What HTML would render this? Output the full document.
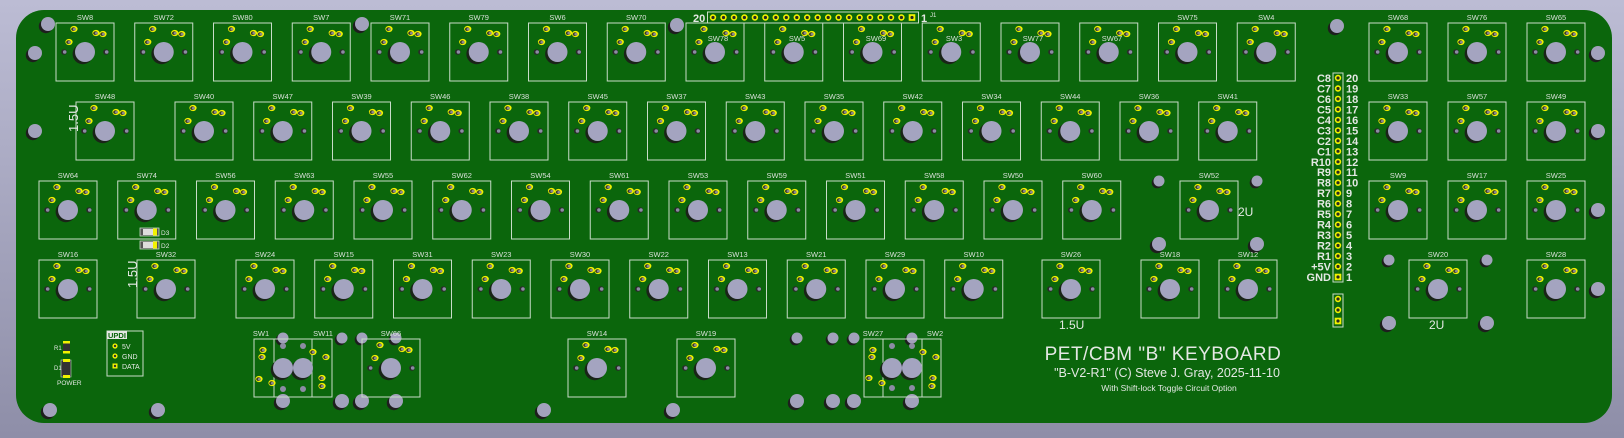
<!DOCTYPE html>
<html><head><meta charset="utf-8"><style>
html,body{margin:0;padding:0;width:1624px;height:438px;overflow:hidden;background:#a8a8c2}
svg{display:block}
text{font-family:"Liberation Sans","DejaVu Sans",sans-serif;fill:#e4e8e4}
.l{font-size:7.5px;text-anchor:middle;fill:#d8e0d8}
</style></head><body>
<svg width="1624" height="438" viewBox="0 0 1624 438" xmlns="http://www.w3.org/2000/svg">
<defs>
<linearGradient id="bg" x1="0" y1="0" x2="0" y2="1"><stop offset="0" stop-color="#bcbcd4"/><stop offset="1" stop-color="#8e8ea8"/></linearGradient>
<g id="pad"><ellipse rx="3.6" ry="3.1" fill="#f2f200"/><ellipse cx="-0.5" cy="0.2" rx="2.3" ry="1.9" fill="#3a3a2a"/><ellipse cx="0.4" cy="0.2" rx="1.5" ry="1.3" fill="#8a8a90"/></g>
<g id="hole"><circle cx="-2" cy="2" r="1" fill="#222"/></g>
<g id="sw">
<rect x="-29" y="-29" width="58" height="58" fill="none" stroke="#c8dcc8" stroke-width="1"/>
<circle cx="-2.2" cy="2" r="10.2" fill="#1a2418"/>
<circle cx="0" cy="0" r="10" fill="#a4a4c0"/>
<circle cx="-21" cy="0" r="2.8" fill="#2a2a2a"/><circle cx="-20.3" cy="0" r="1.8" fill="#8c8ca4"/>
<circle cx="21" cy="0" r="2.8" fill="#2a2a2a"/><circle cx="21.7" cy="0" r="1.8" fill="#8c8ca4"/>
<use href="#pad" x="-11" y="-23"/><use href="#pad" x="11" y="-19"/><use href="#pad" x="18" y="-18"/><use href="#pad" x="-16" y="-10"/>
</g>
<g id="mh5"><circle cx="-1.8" cy="1.8" r="5.5" fill="#1e1e1e"/><circle r="5.5" fill="#a2a2bc"/></g>
<g id="mh7"><circle cx="-2.2" cy="2.2" r="7" fill="#1e1e1e"/><circle r="7" fill="#a2a2bc"/></g>
<g id="pin"><circle r="3.2" fill="#f2f200"/><circle r="1.6" fill="#2a2a20"/></g>
<g id="pinsq"><rect x="-3.3" y="-3.3" width="6.6" height="6.6" fill="#f2f200"/><circle r="1.6" fill="#2a2a20"/></g>
</defs>
<rect width="1624" height="438" fill="url(#bg)"/>
<rect x="16" y="10" width="1596" height="413" rx="28" fill="#0b660c"/>

<!-- mounting holes -->
<use href="#mh7" x="48" y="24"/><use href="#mh7" x="35" y="53"/><use href="#mh7" x="35" y="131"/>
<use href="#mh7" x="362" y="24"/><use href="#mh7" x="677" y="25"/><use href="#mh7" x="1337" y="26"/>
<use href="#mh7" x="1598" y="53"/><use href="#mh7" x="1598" y="131"/><use href="#mh7" x="1598" y="210"/><use href="#mh7" x="1598" y="289"/>
<use href="#mh7" x="50" y="410"/><use href="#mh7" x="158" y="410"/><use href="#mh7" x="544" y="410"/><use href="#mh7" x="673" y="410"/>
<use href="#mh5" x="1159" y="181"/><use href="#mh5" x="1257" y="181"/><use href="#mh7" x="1159" y="244"/><use href="#mh7" x="1257" y="244"/>
<use href="#mh5" x="1389" y="260"/><use href="#mh5" x="1487" y="260"/><use href="#mh7" x="1389" y="323"/><use href="#mh7" x="1487" y="323"/>
<use href="#mh5" x="283" y="338"/><use href="#mh5" x="342" y="338"/><use href="#mh5" x="362" y="338"/><use href="#mh5" x="396" y="338"/>
<use href="#mh7" x="283" y="401"/><use href="#mh7" x="342" y="401"/><use href="#mh7" x="362" y="401"/><use href="#mh7" x="396" y="401"/>
<use href="#mh5" x="797" y="338"/><use href="#mh5" x="833" y="338"/><use href="#mh5" x="854" y="338"/><use href="#mh5" x="912" y="338"/>
<use href="#mh7" x="797" y="401"/><use href="#mh7" x="833" y="401"/><use href="#mh7" x="854" y="401"/><use href="#mh7" x="912" y="401"/>

<!-- row1 -->
<use href="#sw" x="85" y="52"/><use href="#sw" x="163.75" y="52"/><use href="#sw" x="242.5" y="52"/><use href="#sw" x="321.25" y="52"/>
<use href="#sw" x="400" y="52"/><use href="#sw" x="478.75" y="52"/><use href="#sw" x="557.5" y="52"/><use href="#sw" x="636.25" y="52"/>
<use href="#sw" x="715" y="52"/><use href="#sw" x="793.75" y="52"/><use href="#sw" x="872.5" y="52"/><use href="#sw" x="951.25" y="52"/>
<use href="#sw" x="1030" y="52"/><use href="#sw" x="1108.75" y="52"/><use href="#sw" x="1187.5" y="52"/><use href="#sw" x="1266.25" y="52"/>
<use href="#sw" x="1398" y="52"/><use href="#sw" x="1477" y="52"/><use href="#sw" x="1556" y="52"/>
<g class="l">
<text class="l" x="85" y="20">SW8</text><text class="l" x="163.75" y="20">SW72</text><text class="l" x="242.5" y="20">SW80</text><text class="l" x="321.25" y="20">SW7</text>
<text class="l" x="400" y="20">SW71</text><text class="l" x="478.75" y="20">SW79</text><text class="l" x="557.5" y="20">SW6</text><text class="l" x="636.25" y="20">SW70</text>
<text class="l" x="718" y="41">SW78</text><text class="l" x="797" y="41">SW5</text><text class="l" x="876" y="41">SW69</text><text class="l" x="954" y="41">SW3</text>
<text class="l" x="1033" y="41">SW77</text><text class="l" x="1112" y="41">SW67</text><text class="l" x="1187.5" y="20">SW75</text><text class="l" x="1266.25" y="20">SW4</text>
<text class="l" x="1398" y="20">SW68</text><text class="l" x="1477" y="20">SW76</text><text class="l" x="1556" y="20">SW65</text>
</g>

<!-- row2 -->
<use href="#sw" x="105" y="131"/><use href="#sw" x="204" y="131"/><use href="#sw" x="282.75" y="131"/><use href="#sw" x="361.5" y="131"/>
<use href="#sw" x="440.25" y="131"/><use href="#sw" x="519" y="131"/><use href="#sw" x="597.75" y="131"/><use href="#sw" x="676.5" y="131"/>
<use href="#sw" x="755.25" y="131"/><use href="#sw" x="834" y="131"/><use href="#sw" x="912.75" y="131"/><use href="#sw" x="991.5" y="131"/>
<use href="#sw" x="1070.25" y="131"/><use href="#sw" x="1149" y="131"/><use href="#sw" x="1227.75" y="131"/>
<use href="#sw" x="1398" y="131"/><use href="#sw" x="1477" y="131"/><use href="#sw" x="1556" y="131"/>
<text class="l" x="105" y="99">SW48</text><text class="l" x="204" y="99">SW40</text><text class="l" x="282.75" y="99">SW47</text><text class="l" x="361.5" y="99">SW39</text>
<text class="l" x="440.25" y="99">SW46</text><text class="l" x="519" y="99">SW38</text><text class="l" x="597.75" y="99">SW45</text><text class="l" x="676.5" y="99">SW37</text>
<text class="l" x="755.25" y="99">SW43</text><text class="l" x="834" y="99">SW35</text><text class="l" x="912.75" y="99">SW42</text><text class="l" x="991.5" y="99">SW34</text>
<text class="l" x="1070.25" y="99">SW44</text><text class="l" x="1149" y="99">SW36</text><text class="l" x="1227.75" y="99">SW41</text>
<text class="l" x="1398" y="99">SW33</text><text class="l" x="1477" y="99">SW57</text><text class="l" x="1556" y="99">SW49</text>

<!-- row3 -->
<use href="#sw" x="68" y="210"/><use href="#sw" x="146.75" y="210"/><use href="#sw" x="225.5" y="210"/><use href="#sw" x="304.25" y="210"/>
<use href="#sw" x="383" y="210"/><use href="#sw" x="461.75" y="210"/><use href="#sw" x="540.5" y="210"/><use href="#sw" x="619.25" y="210"/>
<use href="#sw" x="698" y="210"/><use href="#sw" x="776.75" y="210"/><use href="#sw" x="855.5" y="210"/><use href="#sw" x="934.25" y="210"/>
<use href="#sw" x="1013" y="210"/><use href="#sw" x="1091.75" y="210"/><use href="#sw" x="1209" y="210"/>
<use href="#sw" x="1398" y="210"/><use href="#sw" x="1477" y="210"/><use href="#sw" x="1556" y="210"/>
<text class="l" x="68" y="178">SW64</text><text class="l" x="146.75" y="178">SW74</text><text class="l" x="225.5" y="178">SW56</text><text class="l" x="304.25" y="178">SW63</text>
<text class="l" x="383" y="178">SW55</text><text class="l" x="461.75" y="178">SW62</text><text class="l" x="540.5" y="178">SW54</text><text class="l" x="619.25" y="178">SW61</text>
<text class="l" x="698" y="178">SW53</text><text class="l" x="776.75" y="178">SW59</text><text class="l" x="855.5" y="178">SW51</text><text class="l" x="934.25" y="178">SW58</text>
<text class="l" x="1013" y="178">SW50</text><text class="l" x="1091.75" y="178">SW60</text><text class="l" x="1209" y="178">SW52</text>
<text class="l" x="1398" y="178">SW9</text><text class="l" x="1477" y="178">SW17</text><text class="l" x="1556" y="178">SW25</text>

<!-- row4 -->
<use href="#sw" x="68" y="289"/><use href="#sw" x="166" y="289"/><use href="#sw" x="265" y="289"/><use href="#sw" x="343.75" y="289"/>
<use href="#sw" x="422.5" y="289"/><use href="#sw" x="501.25" y="289"/><use href="#sw" x="580" y="289"/><use href="#sw" x="658.75" y="289"/>
<use href="#sw" x="737.5" y="289"/><use href="#sw" x="816.25" y="289"/><use href="#sw" x="895" y="289"/><use href="#sw" x="973.75" y="289"/>
<use href="#sw" x="1071" y="289"/><use href="#sw" x="1170" y="289"/><use href="#sw" x="1248" y="289"/>
<use href="#sw" x="1438" y="289"/><use href="#sw" x="1556" y="289"/>
<text class="l" x="68" y="257">SW16</text><text class="l" x="166" y="257">SW32</text><text class="l" x="265" y="257">SW24</text><text class="l" x="343.75" y="257">SW15</text>
<text class="l" x="422.5" y="257">SW31</text><text class="l" x="501.25" y="257">SW23</text><text class="l" x="580" y="257">SW30</text><text class="l" x="658.75" y="257">SW22</text>
<text class="l" x="737.5" y="257">SW13</text><text class="l" x="816.25" y="257">SW21</text><text class="l" x="895" y="257">SW29</text><text class="l" x="973.75" y="257">SW10</text>
<text class="l" x="1071" y="257">SW26</text><text class="l" x="1170" y="257">SW18</text><text class="l" x="1248" y="257">SW12</text>
<text class="l" x="1438" y="257">SW20</text><text class="l" x="1556" y="257">SW28</text>

<!-- row5 -->
<use href="#sw" x="391" y="368"/><use href="#sw" x="597" y="368"/><use href="#sw" x="706" y="368"/>
<text class="l" x="391" y="336">SW66</text><text class="l" x="597" y="336">SW14</text><text class="l" x="706" y="336">SW19</text>
<!-- SW1/SW11 combo -->
<g>
<rect x="254" y="339" width="58" height="58" fill="none" stroke="#c8dcc8"/>
<rect x="274" y="339" width="58" height="58" fill="none" stroke="#c8dcc8"/>
<circle cx="281" cy="370" r="10.2" fill="#1a2418"/><circle cx="301" cy="370" r="10.2" fill="#1a2418"/>
<circle cx="283" cy="368" r="10" fill="#a4a4c0"/><circle cx="303" cy="368" r="10" fill="#a4a4c0"/>
<circle cx="283" cy="346" r="3" fill="#8c8ca4"/><circle cx="303" cy="346" r="3" fill="#8c8ca4"/>
<circle cx="283" cy="389" r="3" fill="#8c8ca4"/><circle cx="303" cy="389" r="3" fill="#8c8ca4"/>
<use href="#pad" x="263" y="350"/><use href="#pad" x="262" y="357"/><use href="#pad" x="259" y="379"/><use href="#pad" x="272" y="383"/>
<use href="#pad" x="313" y="352"/><use href="#pad" x="326" y="357"/><use href="#pad" x="322" y="378"/><use href="#pad" x="322" y="386"/>
<text class="l" x="261" y="336">SW1</text><text class="l" x="323" y="336">SW11</text>
</g>
<!-- SW27/SW2 combo -->
<g>
<rect x="864" y="339" width="58" height="58" fill="none" stroke="#c8dcc8"/>
<rect x="883" y="339" width="58" height="58" fill="none" stroke="#c8dcc8"/>
<circle cx="890" cy="370" r="10.2" fill="#1a2418"/><circle cx="910" cy="370" r="10.2" fill="#1a2418"/>
<circle cx="892" cy="368" r="10" fill="#a4a4c0"/><circle cx="912" cy="368" r="10" fill="#a4a4c0"/>
<circle cx="892" cy="346" r="3" fill="#8c8ca4"/><circle cx="912" cy="346" r="3" fill="#8c8ca4"/>
<circle cx="892" cy="388" r="3" fill="#8c8ca4"/><circle cx="912" cy="388" r="3" fill="#8c8ca4"/>
<use href="#pad" x="873" y="350"/><use href="#pad" x="872" y="357"/><use href="#pad" x="869" y="378"/><use href="#pad" x="882" y="383"/>
<use href="#pad" x="923" y="352"/><use href="#pad" x="936" y="357"/><use href="#pad" x="933" y="378"/><use href="#pad" x="932" y="386"/>
<text class="l" x="873" y="336">SW27</text><text class="l" x="935" y="336">SW2</text>
</g>

<!-- J1 header -->
<rect x="707.5" y="12" width="211" height="11" fill="none" stroke="#c8dcc8"/>
<g>
<use href="#pin" x="713" y="17.5"/><use href="#pin" x="723.5" y="17.5"/><use href="#pin" x="734" y="17.5"/><use href="#pin" x="744.4" y="17.5"/>
<use href="#pin" x="754.9" y="17.5"/><use href="#pin" x="765.4" y="17.5"/><use href="#pin" x="775.8" y="17.5"/><use href="#pin" x="786.3" y="17.5"/>
<use href="#pin" x="796.8" y="17.5"/><use href="#pin" x="807.2" y="17.5"/><use href="#pin" x="817.7" y="17.5"/><use href="#pin" x="828.2" y="17.5"/>
<use href="#pin" x="838.6" y="17.5"/><use href="#pin" x="849.1" y="17.5"/><use href="#pin" x="859.6" y="17.5"/><use href="#pin" x="870" y="17.5"/>
<use href="#pin" x="880.5" y="17.5"/><use href="#pin" x="891" y="17.5"/><use href="#pin" x="901.4" y="17.5"/><use href="#pinsq" x="912" y="17.5"/>
</g>
<text x="693" y="22" style="font-size:11px;font-weight:bold">20</text>
<text x="921" y="22" style="font-size:11px;font-weight:bold">1</text>
<text x="930" y="17" style="font-size:6px">J1</text>

<!-- J2 header -->
<rect x="1333" y="73" width="10" height="209" fill="none" stroke="#c8dcc8"/>
<g>
<use href="#pin" x="1338" y="78"/><use href="#pin" x="1338" y="88.5"/><use href="#pin" x="1338" y="98.9"/><use href="#pin" x="1338" y="109.4"/>
<use href="#pin" x="1338" y="119.9"/><use href="#pin" x="1338" y="130.4"/><use href="#pin" x="1338" y="140.8"/><use href="#pin" x="1338" y="151.3"/>
<use href="#pin" x="1338" y="161.8"/><use href="#pin" x="1338" y="172.2"/><use href="#pin" x="1338" y="182.7"/><use href="#pin" x="1338" y="193.2"/>
<use href="#pin" x="1338" y="203.6"/><use href="#pin" x="1338" y="214.1"/><use href="#pin" x="1338" y="224.6"/><use href="#pin" x="1338" y="235"/>
<use href="#pin" x="1338" y="245.5"/><use href="#pin" x="1338" y="256"/><use href="#pin" x="1338" y="266.5"/><use href="#pinsq" x="1338" y="277"/>
</g>
<g style="font-size:11px;font-weight:bold">
<g text-anchor="end">
<text x="1331" y="82">C8</text><text x="1331" y="92.5">C7</text><text x="1331" y="103">C6</text><text x="1331" y="113.4">C5</text>
<text x="1331" y="124">C4</text><text x="1331" y="134.4">C3</text><text x="1331" y="145">C2</text><text x="1331" y="155.3">C1</text>
<text x="1331" y="165.8">R10</text><text x="1331" y="176.2">R9</text><text x="1331" y="186.7">R8</text><text x="1331" y="197.2">R7</text>
<text x="1331" y="207.6">R6</text><text x="1331" y="218.1">R5</text><text x="1331" y="228.6">R4</text><text x="1331" y="239">R3</text>
<text x="1331" y="249.5">R2</text><text x="1331" y="260">R1</text><text x="1331" y="270.5">+5V</text><text x="1331" y="281">GND</text>
</g>
<text x="1346" y="82">20</text><text x="1346" y="92.5">19</text><text x="1346" y="103">18</text><text x="1346" y="113.4">17</text>
<text x="1346" y="124">16</text><text x="1346" y="134.4">15</text><text x="1346" y="145">14</text><text x="1346" y="155.3">13</text>
<text x="1346" y="165.8">12</text><text x="1346" y="176.2">11</text><text x="1346" y="186.7">10</text><text x="1346" y="197.2">9</text>
<text x="1346" y="207.6">8</text><text x="1346" y="218.1">7</text><text x="1346" y="228.6">6</text><text x="1346" y="239">5</text>
<text x="1346" y="249.5">4</text><text x="1346" y="260">3</text><text x="1346" y="270.5">2</text><text x="1346" y="281">1</text>
</g>
<!-- 3-pin below -->
<rect x="1333" y="294" width="10" height="33" fill="none" stroke="#c8dcc8"/>
<use href="#pin" x="1338" y="299"/><use href="#pin" x="1338" y="310"/><use href="#pinsq" x="1338" y="321"/>

<!-- size labels -->
<text x="0" y="0" transform="translate(78,132) rotate(-90)" style="font-size:13px">1.5U</text>
<text x="0" y="0" transform="translate(137,288) rotate(-90)" style="font-size:13px">1.5U</text>
<text x="1059" y="329" style="font-size:12px">1.5U</text>
<text x="1238" y="216" style="font-size:12px">2U</text>
<text x="1429" y="329" style="font-size:12px">2U</text>

<!-- diodes D3 D2 -->
<rect x="140" y="228" width="19" height="8" fill="#555" stroke="#c8dcc8" stroke-width="0.8"/><rect x="143" y="229" width="10" height="6" fill="#ddd"/><rect x="153" y="228.5" width="4" height="7" fill="#f2f200"/>
<text x="161" y="235" style="font-size:6.5px">D3</text>
<rect x="140" y="241" width="19" height="8" fill="#555" stroke="#c8dcc8" stroke-width="0.8"/><rect x="143" y="242" width="10" height="6" fill="#ddd"/><rect x="153" y="241.5" width="4" height="7" fill="#f2f200"/>
<text x="161" y="248" style="font-size:6.5px">D2</text>

<!-- R1 D1 power -->
<rect x="63" y="342" width="7" height="11" fill="#333"/><rect x="63" y="341" width="7" height="2.5" fill="#f2f200"/><rect x="63" y="351" width="7" height="2.5" fill="#f2f200"/>
<text x="54" y="350" style="font-size:6px">R1</text>
<rect x="61" y="360" width="10" height="17" fill="#333" stroke="#c8dcc8" stroke-width="0.6"/><rect x="63" y="359" width="7" height="3" fill="#f2f200"/><rect x="63" y="375" width="7" height="3" fill="#f2f200"/>
<text x="54" y="370" style="font-size:6px">D1</text>
<text x="57" y="385" style="font-size:6.5px">POWER</text>

<!-- UPDI -->
<rect x="107" y="331" width="36" height="45" fill="none" stroke="#c8dcc8"/>
<rect x="107" y="331" width="20" height="8" fill="#e4e8e4"/>
<text x="108" y="338" style="font-size:7.5px;fill:#0b660c;font-weight:bold">UPDI</text>
<circle cx="115" cy="346" r="2.6" fill="#f2f200"/><circle cx="115" cy="346" r="1.2" fill="#333"/>
<circle cx="115" cy="356" r="2.6" fill="#f2f200"/><circle cx="115" cy="356" r="1.2" fill="#333"/>
<rect x="112.5" y="363.5" width="5" height="5" fill="#f2f200"/><circle cx="115" cy="366" r="1.2" fill="#333"/>
<text x="122" y="349" style="font-size:7px">5V</text>
<text x="122" y="359" style="font-size:7px">GND</text>
<text x="122" y="369" style="font-size:7px">DATA</text>

<!-- titles -->
<text x="1163" y="360" text-anchor="middle" style="font-size:19px;letter-spacing:0.5px">PET/CBM "B" KEYBOARD</text>
<text x="1167" y="377" text-anchor="middle" style="font-size:12.5px">"B-V2-R1" (C) Steve J. Gray, 2025-11-10</text>
<text x="1169" y="391" text-anchor="middle" style="font-size:8.5px">With Shift-lock Toggle Circuit Option</text>
</svg>
</body></html>
